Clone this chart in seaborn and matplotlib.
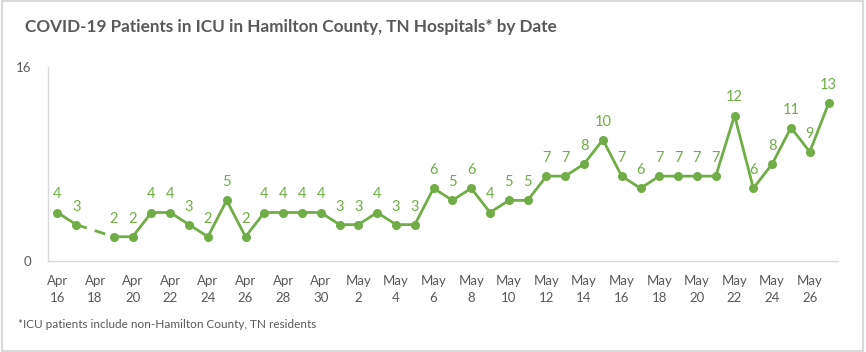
import numpy as np
import pandas as pd
import matplotlib
matplotlib.use('Agg')
import matplotlib.pyplot as plt
import seaborn as sns

# Data (Apr 18 has no report)
dates = pd.date_range('2020-04-16', '2020-05-27', freq='D')
icu = [4, 3, np.nan, 2, 2, 4, 4, 3, 2, 5, 2, 4, 4, 4, 4, 3, 3, 4, 3, 3,
       6, 5, 6, 4, 5, 5, 7, 7, 8, 10, 7, 6, 7, 7, 7, 7, 12, 6, 8, 11, 9, 13]
title = 'COVID-19 Patients in ICU in Hamilton County, TN Hospitals* by Date'
footnote = '*ICU patients include non-Hamilton County, TN residents'

df = pd.DataFrame({'pos': np.arange(len(dates)), 'icu': icu})
df['segment'] = df['icu'].isna().cumsum()
tick_labels = [d.strftime('%b') + '\n' + str(d.day) for d in dates]

sns.set_style('white')
plt.rcParams['font.family'] = ['Lato', 'DejaVu Sans']

green = '#70AD47'
gray = '#595959'
line_gray = '#D9D9D9'

fig = plt.figure(figsize=(8.66, 3.52), dpi=100)
ax = fig.add_axes([48 / 866, 91 / 352, 790 / 866, 194 / 352])

sns.lineplot(data=df.dropna(), x='pos', y='icu', units='segment', estimator=None,
             ax=ax, color=green, linewidth=2, marker='o', markersize=6.5,
             markeredgewidth=0)

# dashed connector over the missing day
for i in np.where(df['icu'].isna())[0]:
    ax.plot([df['pos'][i - 1], df['pos'][i + 1]],
            [df['icu'][i - 1], df['icu'][i + 1]],
            color=green, linewidth=2, linestyle=(0, (4, 3)), zorder=1)

# data labels
for p, v in zip(df['pos'], df['icu']):
    if not np.isnan(v):
        ax.annotate(f'{int(v)}', (p, v), xytext=(0, 8), textcoords='offset points',
                    ha='center', va='bottom', fontsize=10.5, color=green)

ax.set_xlim(-0.5, len(dates) - 0.5)
ax.set_ylim(0, 16)
ax.set_yticks([0, 16])
ax.set_yticklabels(['0', '16'], fontsize=9.5, color=gray)
ax.tick_params(axis='y', length=0, pad=12)

ax.set_xticks(df['pos'][::2])
ax.set_xticklabels(tick_labels[::2], fontsize=9.5, color=gray, linespacing=1.5)
ax.set_xticks(np.arange(-0.5, len(dates), 1), minor=True)
ax.tick_params(axis='x', which='major', length=0, pad=10)
ax.tick_params(axis='x', which='minor', length=5, color=line_gray, width=1)

ax.set_xlabel('')
ax.set_ylabel('')
for side in ['top', 'right']:
    ax.spines[side].set_visible(False)
for side in ['left', 'bottom']:
    ax.spines[side].set_color(line_gray)
    ax.spines[side].set_linewidth(1)

fig.text(25 / 866, 1 - 27 / 352, title, fontsize=12.3, fontweight='bold',
         color=gray, ha='left', va='center')
fig.text(18 / 866, 1 - 324 / 352, footnote, fontsize=8.5, color=gray,
         ha='left', va='center')

# light border around the chart area
fig.patches.append(plt.Rectangle((0.002, 0.003), 0.995, 0.994, transform=fig.transFigure,
                                 fill=False, edgecolor=line_gray, linewidth=1.5))

fig.savefig('out.png', dpi=100)
